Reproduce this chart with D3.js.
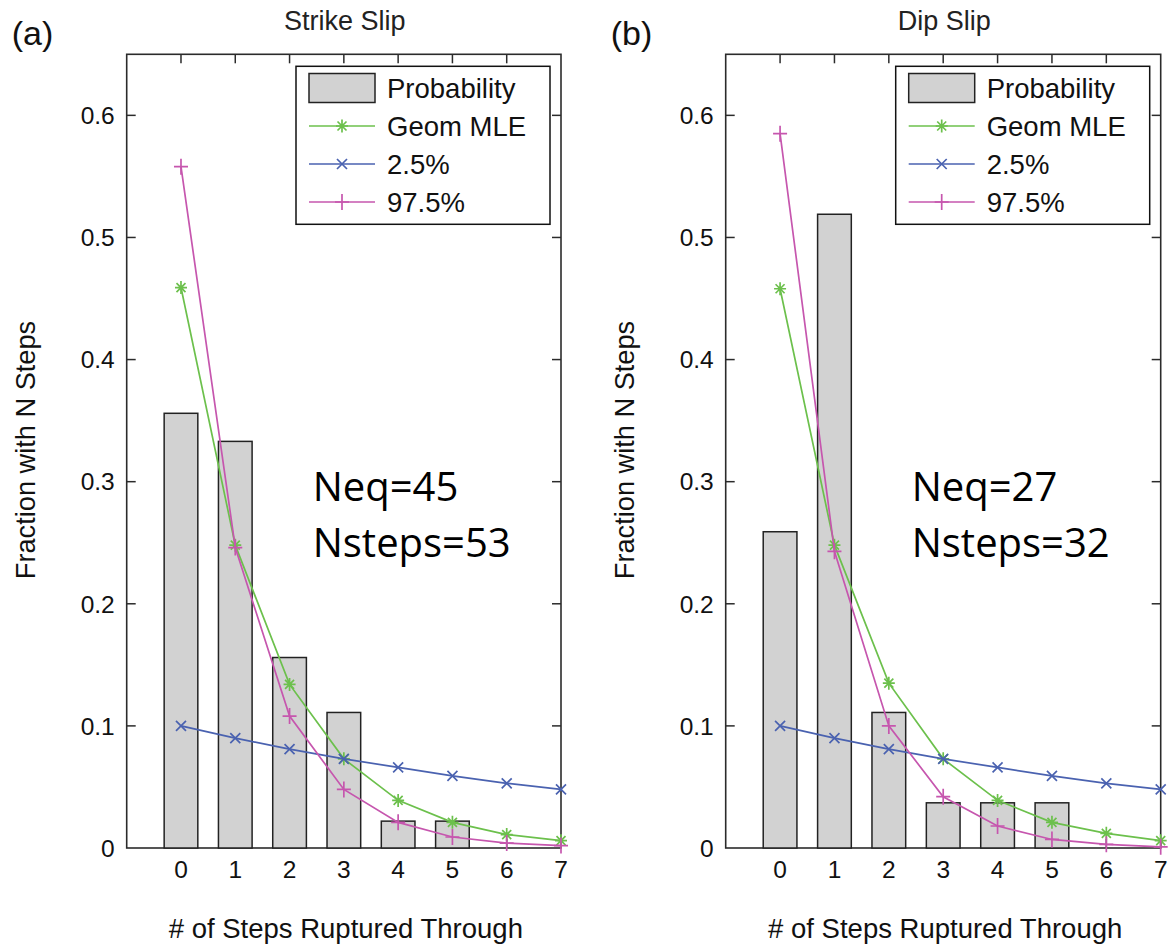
<!DOCTYPE html>
<html>
<head>
<meta charset="utf-8">
<script src="https://cdn.jsdelivr.net/npm/d3@7"></script>
<style>
  html, body { margin: 0; padding: 0; background: #fff; }
  svg { display: block; font-family: "Liberation Sans", Arial, sans-serif; }
</style>
</head>
<body>
<svg id="chart" width="1168" height="946"></svg>
<script>
const steps = [0, 1, 2, 3, 4, 5, 6, 7];
const yTickValues = [0, 0.1, 0.2, 0.3, 0.4, 0.5, 0.6];
const legendNames = ["Probability", "Geom MLE", "2.5%", "97.5%"];

const strikeProb = [0.356, 0.333, 0.156, 0.111, 0.022, 0.022, 0, 0];
const strikeGeom = [0.459, 0.248, 0.134, 0.073, 0.039, 0.021, 0.011, 0.006];
const strikeLow = [0.100, 0.090, 0.081, 0.073, 0.066, 0.059, 0.053, 0.048];
const strikeHigh = [0.558, 0.246, 0.108, 0.048, 0.021, 0.009, 0.004, 0.002];

const dipProb = [0.259, 0.519, 0.111, 0.037, 0.037, 0.037, 0, 0];
const dipGeom = [0.458, 0.248, 0.135, 0.073, 0.039, 0.021, 0.012, 0.006];
const dipLow = [0.100, 0.090, 0.081, 0.073, 0.066, 0.059, 0.053, 0.048];
const dipHigh = [0.585, 0.243, 0.100, 0.042, 0.018, 0.007, 0.003, 0.001];

const GREEN = "#6cc04c";
const BLUE = "#4a62b0";
const MAGENTA = "#c656ae";
const AXIS_COLOR = "#2b2b2b";
const BAR_FILL = "#d2d2d2";

const TOP = 54.3, BOTTOM = 848;
const TICK_LEN = 9;
const BAR_WIDTH = 0.62;

const panels = [
  { tag: "(a)", title: "Strike Slip", left: 126.7, right: 561, prob: strikeProb, geom: strikeGeom, low: strikeLow, high: strikeHigh, note: ["Neq=45", "Nsteps=53"] },
  { tag: "(b)", title: "Dip Slip", left: 725.7, right: 1160.7, prob: dipProb, geom: dipGeom, low: dipLow, high: dipHigh, note: ["Neq=27", "Nsteps=32"] }
];

// marker shapes, centred on 0,0
function markerPath(kind) {
  if (kind === "star") {
    return "M-6,0H6M0,-6.5V6.5M-4.5,-4.5L4.5,4.5M-4.5,4.5L4.5,-4.5";
  } else if (kind === "x") {
    return "M-5,-5L5,5M-5,5L5,-5";
  } else {
    return "M-7,0H7M0,-8V8";
  }
}

const svg = d3.select("#chart");
svg.append("rect").attr("width", 1168).attr("height", 946).attr("fill", "#fff");

panels.forEach(p => {
  const x = d3.scaleLinear().domain([-1, 7]).range([p.left, p.right]);
  const y = d3.scaleLinear().domain([0, 0.65]).range([BOTTOM, TOP]);
  const cx = (p.left + p.right) / 2;
  const g = svg.append("g");

  // ticks go under the data, like MATLAB's default layer
  const yt = yTickValues.filter(v => v > 0);

  g.append("g")
    .attr("stroke", AXIS_COLOR)
    .attr("stroke-width", 1.5)
    .selectAll("line")
    .data(yt.concat(yt))
    .join("line")
    .attr("x1", (d, i) => i < yt.length ? p.left : p.right)
    .attr("x2", (d, i) => i < yt.length ? p.left + TICK_LEN : p.right - TICK_LEN)
    .attr("y1", d => y(d)).attr("y2", d => y(d));

  g.append("g")
    .attr("stroke", AXIS_COLOR)
    .attr("stroke-width", 1.5)
    .selectAll("line")
    .data(steps.slice(0, 7))
    .join("line")
    .attr("x1", d => x(d)).attr("x2", d => x(d))
    .attr("y1", TOP).attr("y2", TOP + TICK_LEN);

  g.append("g")
    .attr("stroke", AXIS_COLOR)
    .attr("stroke-width", 1.5)
    .selectAll("line")
    .data(steps)
    .join("line")
    .attr("x1", d => x(d)).attr("x2", d => x(d))
    .attr("y1", BOTTOM).attr("y2", BOTTOM - TICK_LEN);

  // box
  g.append("rect")
    .attr("x", p.left).attr("y", TOP)
    .attr("width", p.right - p.left).attr("height", BOTTOM - TOP)
    .attr("fill", "none")
    .attr("stroke", AXIS_COLOR)
    .attr("stroke-width", 1.6);

  // bars
  g.append("g")
    .selectAll("rect")
    .data(steps.filter(s => p.prob[s] > 0))
    .join("rect")
    .attr("x", d => x(d - BAR_WIDTH / 2))
    .attr("width", x(BAR_WIDTH) - x(0))
    .attr("y", d => y(p.prob[d]))
    .attr("height", d => y(0) - y(p.prob[d]))
    .attr("fill", BAR_FILL)
    .attr("stroke", "#222")
    .attr("stroke-width", 1.5);

  const series = [
    { values: p.geom, color: GREEN, marker: "star" },
    { values: p.low, color: BLUE, marker: "x" },
    { values: p.high, color: MAGENTA, marker: "plus" }
  ];

  const line = d3.line()
    .x((d, i) => x(steps[i]))
    .y(d => y(d));

  series.forEach(s => {
    g.append("path")
      .attr("d", line(s.values))
      .attr("fill", "none")
      .attr("stroke", s.color)
      .attr("stroke-width", 1.7);

    g.append("g")
      .selectAll("path")
      .data(s.values)
      .join("path")
      .attr("d", markerPath(s.marker))
      .attr("transform", (d, i) => `translate(${x(steps[i])},${y(d)})`)
      .attr("fill", "none")
      .attr("stroke", s.color)
      .attr("stroke-width", 1.7);
  });

  // tick labels
  g.append("g")
    .attr("font-size", 24.5)
    .attr("fill", "#111")
    .attr("text-anchor", "end")
    .selectAll("text")
    .data(yTickValues)
    .join("text")
    .attr("x", p.left - 12)
    .attr("y", d => y(d))
    .attr("dy", "0.36em")
    .text(d => d === 0 ? "0" : d3.format(".1f")(d));

  g.append("g")
    .attr("font-size", 24.5)
    .attr("fill", "#111")
    .attr("text-anchor", "middle")
    .selectAll("text")
    .data(steps)
    .join("text")
    .attr("x", d => x(d))
    .attr("y", 878)
    .text(d => d);

  // titles and axis labels
  g.append("text")
    .attr("x", cx + 1).attr("y", 29.5)
    .attr("text-anchor", "middle")
    .attr("font-size", 27)
    .attr("fill", "#222")
    .text(p.title);

  g.append("text")
    .attr("x", p.left - 115).attr("y", 45)
    .attr("font-size", 34)
    .attr("fill", "#111")
    .text(p.tag);

  g.append("text")
    .attr("x", cx + 2).attr("y", 938)
    .attr("text-anchor", "middle")
    .attr("font-size", 27.5)
    .attr("fill", "#111")
    .text("# of Steps Ruptured Through");

  g.append("text")
    .attr("transform", `translate(${p.left - 92},450) rotate(-90)`)
    .attr("text-anchor", "middle")
    .attr("font-size", 27.2)
    .attr("fill", "#111")
    .text("Fraction with N Steps");

  // legend
  const legRight = p.right - 11;
  const legLeft = legRight - 254;
  const legend = g.append("g");
  legend.append("rect")
    .attr("x", legLeft).attr("y", 66.3)
    .attr("width", legRight - legLeft).attr("height", 158)
    .attr("fill", "#fff")
    .attr("stroke", "#111")
    .attr("stroke-width", 1.5);

  const rowY = d3.scalePoint().domain(legendNames).range([88, 202]);

  legend.append("rect")
    .attr("x", legLeft + 13).attr("y", rowY(legendNames[0]) - 14.5)
    .attr("width", 66).attr("height", 29)
    .attr("fill", BAR_FILL)
    .attr("stroke", "#222")
    .attr("stroke-width", 1.5);

  series.forEach((s, i) => {
    const yy = rowY(legendNames[i + 1]);
    legend.append("line")
      .attr("x1", legLeft + 13).attr("x2", legLeft + 79)
      .attr("y1", yy).attr("y2", yy)
      .attr("stroke", s.color)
      .attr("stroke-width", 1.7);
    legend.append("path")
      .attr("d", markerPath(s.marker))
      .attr("transform", `translate(${legLeft + 46},${yy})`)
      .attr("fill", "none")
      .attr("stroke", s.color)
      .attr("stroke-width", 1.7);
  });

  legend.selectAll("text")
    .data(legendNames)
    .join("text")
    .attr("x", legLeft + 91)
    .attr("y", d => rowY(d))
    .attr("dy", "0.36em")
    .attr("font-size", 27.5)
    .attr("fill", "#111")
    .text(d => d);

  // sample counts
  g.append("g")
    .attr("font-family", "'Open Sans', sans-serif")
    .attr("font-size", 40)
    .attr("fill", "#000")
    .selectAll("text")
    .data(p.note)
    .join("text")
    .attr("x", p.left + 186)
    .attr("y", (d, i) => 501 + i * 56)
    .text(d => d);
});
</script>
</body>
</html>
